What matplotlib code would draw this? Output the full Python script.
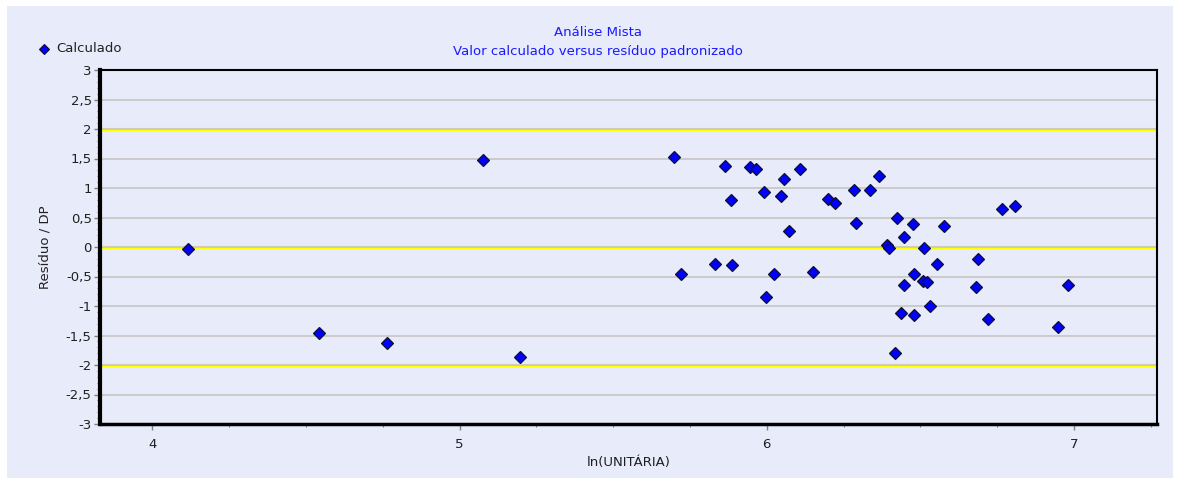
import numpy as np
import matplotlib
matplotlib.use("Agg")
import matplotlib.pyplot as plt
from matplotlib.ticker import MultipleLocator, FuncFormatter

# valores: ln(UNITÁRIA) x resíduo padronizado
ln_unitaria = [4.117, 4.544, 4.765, 5.077, 5.196,
               5.697, 5.721, 5.832, 5.864, 5.882, 5.888, 5.947, 5.965, 5.992, 5.996,
               6.025, 6.047, 6.056, 6.071, 6.107, 6.152, 6.199, 6.223, 6.283, 6.291,
               6.337, 6.365, 6.391, 6.397, 6.416, 6.424, 6.438, 6.447, 6.448, 6.475,
               6.480, 6.480, 6.509, 6.511, 6.521, 6.531, 6.553, 6.576, 6.682, 6.688,
               6.719, 6.765, 6.807, 6.949, 6.981]
residuo_dp = [-0.04, -1.46, -1.63, 1.47, -1.86,
              1.52, -0.46, -0.28, 1.37, 0.80, -0.31, 1.35, 1.32, 0.94, -0.84,
              -0.46, 0.87, 1.16, 0.27, 1.33, -0.43, 0.82, 0.75, 0.97, 0.41,
              0.97, 1.21, 0.03, -0.02, -1.80, 0.49, -1.12, -0.64, 0.17, 0.39,
              -0.45, -1.15, -0.57, -0.02, -0.60, -1.00, -0.28, 0.36, -0.67, -0.21,
              -1.22, 0.65, 0.70, -1.36, -0.64]
linhas_ref = [-2, 0, 2]

bg = '#E8EBFA'
plt.rcParams['font.family'] = ['DejaVu Sans']

fig = plt.figure(figsize=(11.8, 4.79), dpi=100, facecolor='white')
# moldura lavanda
fig.patches.append(plt.Rectangle((7 / 1180, 1 / 479), 1166 / 1180, 472 / 479,
                                 transform=fig.transFigure, facecolor=bg,
                                 edgecolor='none', zorder=-10))
ax = fig.add_axes([100 / 1180, 1 - 424 / 479, 1057 / 1180, 354 / 479])
ax.set_facecolor(bg)

ax.set_xlim(3.83, 7.27)
ax.set_ylim(-3, 3)
ax.yaxis.set_major_locator(MultipleLocator(0.5))
ax.yaxis.set_minor_locator(MultipleLocator(0.1))
ax.xaxis.set_major_locator(MultipleLocator(1))
ax.xaxis.set_minor_locator(MultipleLocator(0.25))

fmt = FuncFormatter(lambda v, p: ('%g' % v).replace('.', ','))
ax.yaxis.set_major_formatter(fmt)
ax.xaxis.set_major_formatter(fmt)

ax.grid(axis='y', which='major', color='#C8C8C8', linewidth=1.3, zorder=0)
for yv in linhas_ref:
    ax.axhline(yv, color='#FFFF00', linewidth=2.4, zorder=1)

ax.plot(ln_unitaria, residuo_dp, linestyle='none', marker='D', markersize=6.2,
        markerfacecolor='#0000FF', markeredgecolor='#101030', markeredgewidth=0.9,
        zorder=3)

ax.spines['left'].set_linewidth(3)
ax.spines['bottom'].set_linewidth(2.5)
ax.spines['top'].set_linewidth(1.5)
ax.spines['right'].set_linewidth(1.5)

ax.tick_params(axis='both', which='major', direction='out', length=4, width=1,
               color='#808080', labelsize=9.5, labelcolor='#202020')
ax.tick_params(axis='both', which='minor', direction='out', length=2, width=0.8,
               color='#808080')
ax.tick_params(axis='x', pad=6)
ax.tick_params(axis='y', pad=2)

ax.set_xlabel('ln(UNITÁRIA)', fontsize=9.5, color='#202020', labelpad=4)
ax.set_ylabel('Resíduo / DP', fontsize=9.5, color='#202020', labelpad=10)

fig.text(0.507, 1 - 33 / 479, 'Análise Mista', ha='center', va='center',
         fontsize=9.5, color='#1A1AFF')
fig.text(0.507, 1 - 52 / 479, 'Valor calculado versus resíduo padronizado',
         ha='center', va='center', fontsize=9.5, color='#1A1AFF')

# legenda
fig.lines.append(plt.Line2D([44 / 1180], [1 - 49 / 479], transform=fig.transFigure,
                            marker='D', markersize=5.5, linestyle='none',
                            markerfacecolor='#0000FF', markeredgecolor='#101030',
                            markeredgewidth=0.8))
fig.text(56 / 1180, 1 - 49 / 479, 'Calculado', ha='left', va='center',
         fontsize=9.5, color='#202020')

fig.savefig('out.png', dpi=100, facecolor='white')
